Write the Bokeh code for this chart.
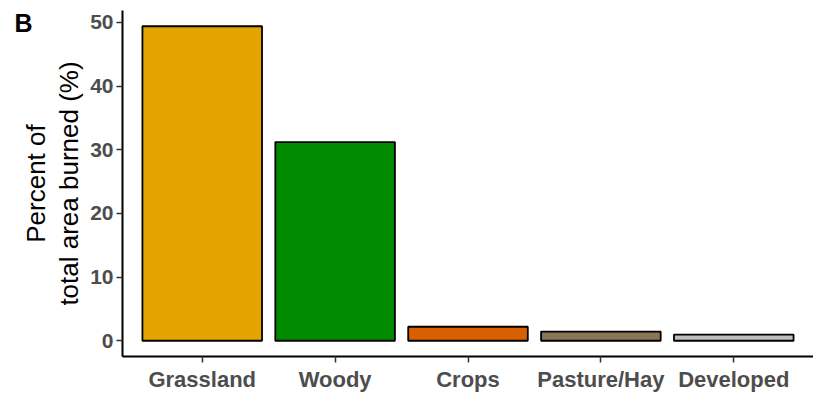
from bokeh.plotting import figure
from bokeh.models import ColumnDataSource, FactorRange, Label, Range1d, FixedTicker
from bokeh.embed import file_html
from bokeh.resources import INLINE

categories = ["Grassland", "Woody", "Crops", "Pasture/Hay", "Developed"]
values = [49.4, 31.2, 2.2, 1.45, 0.95]
colors = ["#E3A300", "#008A00", "#D86000", "#8B7355", "#BEBEBE"]
y_ticks = [0, 10, 20, 30, 40, 50]

src = ColumnDataSource(dict(cat=categories, val=values, col=colors))

p = figure(width=813, height=394, output_backend="svg", toolbar_location=None,
           x_range=FactorRange(factors=categories, range_padding=0.1,
                               range_padding_units="absolute"),
           y_range=Range1d(-2.47, 51.87),
           min_border_left=121, min_border_right=0, min_border_top=10,
           min_border_bottom=36)
p.vbar(x="cat", top="val", width=0.9, source=src, fill_color="col",
       line_color="black", line_width=1.8)

p.grid.visible = False
p.outline_line_color = None
p.background_fill_color = "white"
p.border_fill_color = "white"

for ax in (p.xaxis[0], p.yaxis[0]):
    ax.axis_line_color = "black"
    ax.axis_line_width = 2
    ax.major_tick_line_color = "#333333"
    ax.major_tick_line_width = 1.5
    ax.major_tick_out = 6
    ax.major_tick_in = 0
    ax.minor_tick_line_color = None
    ax.major_label_text_font = "Liberation Sans"
    ax.major_label_text_font_style = "bold"
    ax.major_label_text_color = "#4D4D4D"

p.yaxis.major_label_text_font_size = "21px"
p.xaxis.major_label_text_font_size = "22px"
p.yaxis.ticker = FixedTicker(ticks=y_ticks)
p.yaxis.major_label_standoff = 3
p.xaxis.major_label_standoff = 4
p.yaxis.axis_label = "Percent of\ntotal area burned (%)"
p.yaxis.axis_label_text_font = "Liberation Sans"
p.yaxis.axis_label_text_font_style = "normal"
p.yaxis.axis_label_text_font_size = "26px"
p.yaxis.axis_label_text_line_height = 1.1
p.yaxis.axis_label_text_color = "black"
p.yaxis.axis_label_standoff = 3

lbl = Label(x=14, y=334, x_units="screen", y_units="screen", text="B",
            text_font="Liberation Sans", text_font_style="bold",
            text_font_size="25px", text_color="black",
            text_baseline="alphabetic")
p.add_layout(lbl, "left")

open("out.html", "w").write(file_html(p, INLINE))
